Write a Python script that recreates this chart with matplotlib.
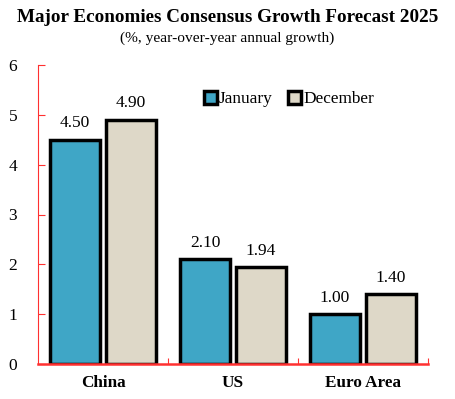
import numpy as np
import matplotlib.pyplot as plt

plt.rcParams['font.family'] = ['Liberation Serif', 'DejaVu Serif']

categories = ['China', 'US', 'Euro Area']
january = [4.50, 2.10, 1.00]
december = [4.90, 1.94, 1.40]
jan_labels = ['4.50', '2.10', '1.00']
dec_labels = ['4.90', '1.94', '1.40']

blue = '#3fa6c6'
beige = '#ded8c8'
red = '#ff3030'

fig = plt.figure(figsize=(4.55, 3.99), dpi=100)
ax = fig.add_axes([38 / 455, 35 / 399, 390 / 455, 299 / 399])

x = np.arange(len(categories))
w = 0.385
gap = 0.045
b1 = ax.bar(x - gap / 2 - w / 2, january, w, color=blue, edgecolor='black', linewidth=2.5, label='January')
b2 = ax.bar(x + gap / 2 + w / 2, december, w, color=beige, edgecolor='black', linewidth=2.5, label='December')

for rect, lab in zip(b1, jan_labels):
    ax.text(rect.get_x() + rect.get_width() / 2, rect.get_height() + 0.17, lab,
            ha='center', va='bottom', fontsize=12.5)
for rect, lab in zip(b2, dec_labels):
    ax.text(rect.get_x() + rect.get_width() / 2, rect.get_height() + 0.17, lab,
            ha='center', va='bottom', fontsize=12.5)

ax.set_xlim(-0.5, 2.5)
ax.set_ylim(0, 6)
ax.set_yticks(range(0, 7))
ax.set_xticks([0.5, 1.5, 2.5])
ax.set_xticklabels([])
ax.set_xticks(x, minor=True)
ax.set_xticklabels(categories, minor=True, fontsize=12.3, fontweight='bold')
ax.tick_params(axis='x', which='minor', length=0, pad=8)
ax.tick_params(axis='x', which='major', direction='in', length=4, color=red)
ax.tick_params(axis='y', direction='in', length=5, color=red, labelsize=12.5, pad=15)

for s in ['top', 'right']:
    ax.spines[s].set_visible(False)
ax.spines['left'].set_color(red)
ax.spines['bottom'].set_color(red)
ax.spines['bottom'].set_linewidth(1.8)

ax.legend(loc='upper left', bbox_to_anchor=(0.385, 0.965), ncol=2, frameon=False,
          fontsize=12.4, handlelength=0.75, handleheight=0.75, handletextpad=0.15,
          columnspacing=0.9)

fig.text(0.5, 0.955, 'Major Economies Consensus Growth Forecast 2025', ha='center',
         va='center', fontsize=13.8, fontweight='bold')
fig.text(0.5, 0.903, '(%, year-over-year annual growth)', ha='center', va='center',
         fontsize=11.1)

fig.savefig('out.png', dpi=100)
